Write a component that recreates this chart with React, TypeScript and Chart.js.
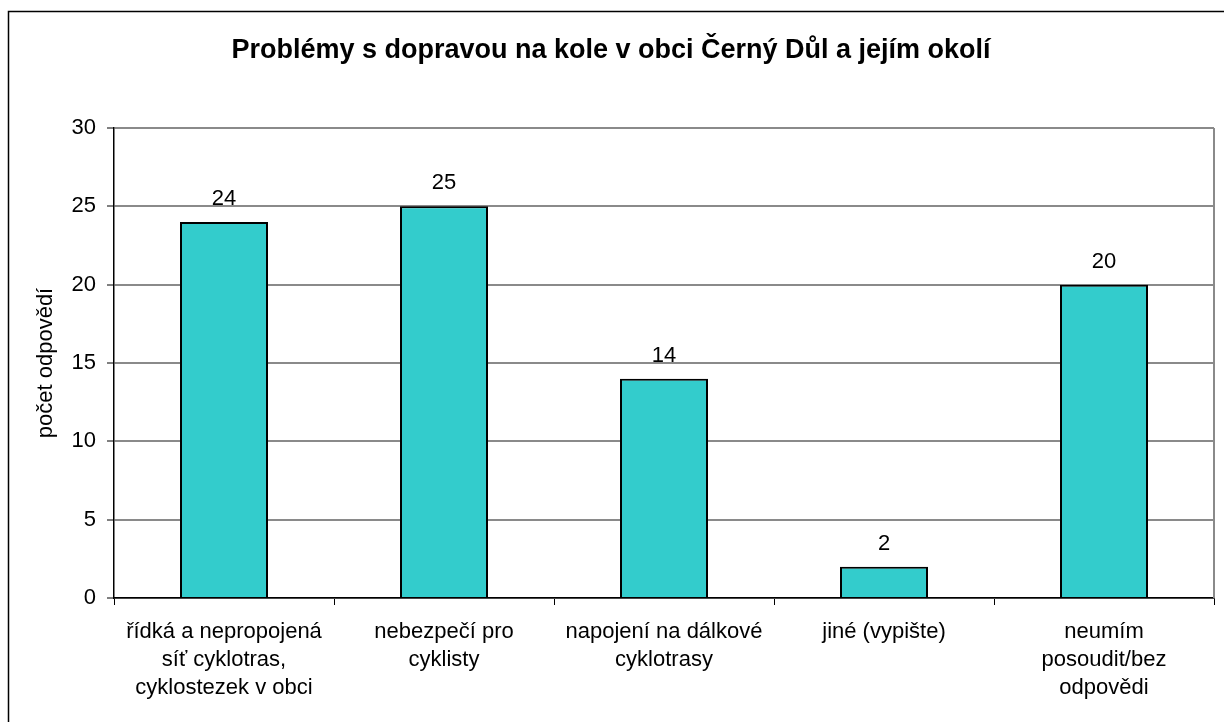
import React, { useEffect, useRef } from "react";
import { Chart, registerables } from "chart.js";

Chart.register(...registerables);

const TITLE = "Problémy s dopravou na kole v obci Černý Důl a jejím okolí";
const Y_TITLE = "počet odpovědí";
const categories: string[][] = [
  ["řídká a nepropojená", "síť cyklotras,", "cyklostezek v obci"],
  ["nebezpečí pro", "cyklisty"],
  ["napojení na dálkové", "cyklotrasy"],
  ["jiné (vypište)"],
  ["neumím", "posoudit/bez", "odpovědi"],
];
const values: number[] = [24, 25, 14, 2, 20];
const yTicks = { min: 0, max: 30, step: 5 };

const FONT = '"Liberation Sans", Arial, sans-serif';

const framePlugin = {
  id: "frame",
  beforeDraw(chart: any) {
    const ctx = chart.ctx;
    ctx.save();
    ctx.fillStyle = "#ffffff";
    ctx.fillRect(0, 0, chart.width, chart.height);
    ctx.strokeStyle = "#000000";
    ctx.lineWidth = 1.5;
    ctx.strokeRect(8.5, 11.5, chart.width + 20, chart.height + 20);
    ctx.restore();
  },
  afterDraw(chart: any) {
    const { ctx, chartArea } = chart;
    ctx.save();
    ctx.strokeStyle = "#8a8a8a";
    ctx.lineWidth = 2;
    ctx.beginPath();
    ctx.moveTo(chartArea.right, chartArea.top);
    ctx.lineTo(chartArea.right, chartArea.bottom);
    ctx.stroke();
    ctx.restore();
  },
};

const labelPlugin = {
  id: "barLabels",
  afterDatasetsDraw(chart: any) {
    const ctx = chart.ctx;
    const meta = chart.getDatasetMeta(0);
    ctx.save();
    ctx.font = `22px ${FONT}`;
    ctx.fillStyle = "#000000";
    ctx.textAlign = "center";
    ctx.textBaseline = "alphabetic";
    meta.data.forEach((bar: any, i: number) => {
      ctx.fillText(String(values[i]), bar.x, bar.y - 17);
    });
    ctx.restore();
  },
};

export default function App() {
  const ref = useRef<HTMLCanvasElement>(null);
  useEffect(() => {
    if (!ref.current) return;
    const chart = new Chart(ref.current, {
      type: "bar",
      data: {
        labels: categories,
        datasets: [
          {
            data: values,
            backgroundColor: "#33CCCC",
            borderColor: "#000000",
            borderWidth: 2,
            barPercentage: 0.4,
            categoryPercentage: 1,
          },
        ],
      },
      options: {
        responsive: false,
        animation: false,
        layout: { padding: { left: 8, right: 10, top: 0, bottom: 0 } },
        plugins: {
          legend: { display: false },
          tooltip: { enabled: false },
          title: {
            display: true,
            text: TITLE,
            color: "#000000",
            font: { family: FONT, size: 27, weight: "bold", lineHeight: 1.2 },
            padding: { top: 34, bottom: 61.6 },
          },
        },
        scales: {
          x: {
            offset: true,
            grid: {
              offset: true,
              drawOnChartArea: false,
              drawTicks: true,
              tickLength: 7,
              tickColor: "#000000",
              tickWidth: 1,
            },
            border: { display: true, color: "#000000", width: 1.5 },
            ticks: {
              color: "#000000",
              font: { family: FONT, size: 22, lineHeight: 28 / 22 },
              padding: 13,
              maxRotation: 0,
              autoSkip: false,
            },
            afterFit: (s: any) => {
              s.height = 124;
            },
          },
          y: {
            min: yTicks.min,
            max: yTicks.max,
            grid: {
              color: "#8a8a8a",
              lineWidth: 2,
              drawTicks: true,
              tickLength: 7,
              tickColor: "#000000",
              tickWidth: 1,
            },
            border: { display: true, color: "#000000", width: 1.5 },
            ticks: {
              stepSize: yTicks.step,
              color: "#000000",
              font: { family: FONT, size: 22 },
              padding: 11,
            },
            title: {
              display: true,
              text: Y_TITLE,
              color: "#000000",
              font: { family: FONT, size: 22, lineHeight: 1.2 },
              padding: { top: 25, bottom: 0 },
            },
            afterFit: (s: any) => {
              s.width = 106;
            },
          },
        },
      },
      plugins: [framePlugin, labelPlugin],
    });
    return () => chart.destroy();
  }, []);
  return (
    <div style={{ position: "fixed", left: 0, top: 0, width: 1224, height: 722, background: "#fff" }}>
      <canvas ref={ref} width={1224} height={722} style={{ display: "block" }} />
    </div>
  );
}
